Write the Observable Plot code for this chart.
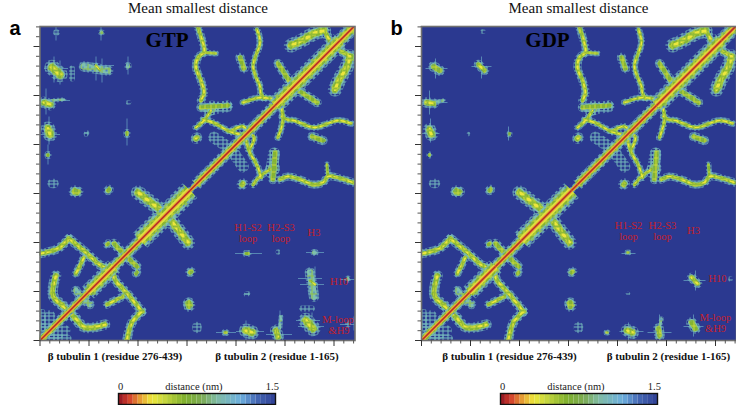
<!DOCTYPE html>
<html><head><meta charset="utf-8">
<script src="https://cdn.jsdelivr.net/npm/d3@7"></script>
<script src="https://cdn.jsdelivr.net/npm/@observablehq/plot@0.6"></script>
<style>
html,body{margin:0;padding:0;background:#fff;overflow:hidden}
#page{position:relative;width:736px;height:405px;overflow:hidden}
svg{overflow:visible}
</style></head><body>
<svg width="0" height="0" style="position:absolute"><defs>
<pattern id="hatch" width="13" height="11" patternUnits="userSpaceOnUse">
<g fill="#74b8bc"><rect y="0" width="13" height="1"/><rect y="4" width="13" height="1"/><rect y="7" width="13" height="1"/>
<rect x="1" width="1" height="11"/><rect x="5" width="1" height="11"/><rect x="9" width="1" height="11"/></g>
</pattern>
<pattern id="dense" width="7" height="9" patternUnits="userSpaceOnUse">
<rect width="7" height="9" fill="#7fc0ac"/><g fill="#4f7fc4"><rect x="1" y="1" width="2" height="1"/><rect x="5" y="3" width="1" height="2"/><rect x="0" y="6" width="2" height="2"/></g>
<g fill="#8fbe4a"><rect x="3" width="1" height="9"/><rect y="5" width="7" height="1"/></g>
</pattern>
<pattern id="mid" width="11" height="7" patternUnits="userSpaceOnUse">
<rect width="11" height="7" fill="#86b432"/><g fill="#c8d83e"><rect x="1" width="1" height="7"/><rect x="6" width="1" height="7"/><rect y="3" width="11" height="1"/></g>
<g fill="#7cb08c"><rect x="9" y="1" width="1" height="1"/><rect x="3" y="5" width="1" height="1"/></g>
</pattern>
<pattern id="core" width="7" height="6" patternUnits="userSpaceOnUse">
<rect width="7" height="6" fill="#ece63c"/><g fill="#94bc36"><rect x="2" width="2" height="6"/><rect y="3" width="7" height="2"/></g>
</pattern>
</defs></svg>
<div id="page"></div>
<script>
// colour key (distance in nm)
const colorStops = [0,0.08,0.2,0.3,0.42,0.62,0.78,0.92,1.15,1.3,1.5];
const colorHex = ["#9c1c24","#d23c2c","#e8a534","#ede83c","#c6d63e","#7fb02e","#7cab54","#80bba4","#6db0de","#4568b4","#2b3990"];
const keyLevels = [0,.047,.094,.141,.188,.234,.281,.328,.375,.422,.469,.516,.563,.609,.656,.703,.75,.797,.844,.891,.938,.984,1.031,1.078,1.125,1.172,1.219,1.266,1.313,1.359,1.406,1.453];
// matrix positions (mirrored about the diagonal): [points..], width, peak level (0 hatch, 1 teal, 2 green, 3 yellow)
const sharedBands = [
 [[1,87,18,92,29,102],7,3],[[29,102,46,88,61,75,73,72],7,3],[[44,83,36,67],6,3],[[16,65,13,45,23,35],8,3],
 [[5,14,10,25],8,0],[[2,28,3,12],5,0],[[98,148,124,128],11,3],[[74,97,85,85],7,2],[[67,96,68,97],6,2],
 [[22,35,30,28],7,3],[[34,149,35,150],8,2],[[68,150,69,151],7,2],[[12,157,14,157],7,0],[[36,50,42,42],7,1],
 [[158,313,164,293,164,288,158,283,156,273,161,260,164,248,161,240],6,3],[[164,288,176,287],4,2],
 [[217,311,220,298,213,274,220,254,221,247,224,242],5,3],[[200,283,204,272],7,2],[[238,277,251,257],7,2],
 [[251,295,262,300,274,307,284,310],11,3],[[284,310,294,293],7,3],[[161,233,188,235],7,2],[[171,232,172,233],11,1],
 [[156,213,164,220,171,230],5,3],[[156,202,157,203],8,3],[[174,203,190,192],9,0],[[203,238,221,243,238,240],5,3],
 [[163,221,173,218,190,209,205,205],5,3],[[190,209,203,214,209,208],5,3],[[231,168,234,187],9,0],[[148,37,149,38],8,2]
];
const blobsGTP = [
 [[16,308,17,308],4,0],[[61,308,62,308],4,1],[[12,273,20,266],12,3],[[32,262,32,272],4,0],[[44,274,68,270],8,1],[[56,275,60,270],4,3],
 [[88,275,88,274],5,1],[[4,238,10,236],9,3],[[12,240,24,241],3,1],[[88,238,89,238],3,0],[[8,212,10,206],11,3],[[46,207,46,206],3,0],
 [[87,208,87,206],5,2],[[8,186,8,185],5,2],[[47,208,47,207],3,0]
];
const blobsGDP = [
 [[61,309,62,309],3,0],[[12,274,18,270],8,2],[[57,276,63,270],7,3],[[5,238,12,237],8,3],[[12,238,22,240],3,1],
 [[8,211,10,206],10,3],[[8,186,8,185],4,2],[[47,207,47,206],2,0],[[88,207,88,206],4,2]
];
const fringesGTP = [[4,272,28,272],[14,284,14,258],[20,280,20,256],[40,275,74,275],[56,284,56,260],[62,282,62,258],[0,240,30,240],[6,252,6,226],[0,206,20,206],[9,224,9,196],[87,222,87,195],[8,196,8,176],[88,284,88,266],[61,316,61,300],[10,314,24,314],[16,316,16,300]];
const fringesGDP = [[4,272,26,272],[14,282,14,262],[50,274,70,274],[60,284,60,262],[0,238,26,238],[8,250,8,226],[0,207,18,207],[9,222,9,198],[87,214,87,200]];
const diagonalStretches = [[0,48,8],[48,74,13],[74,100,9],[100,150,16],[150,156,5],[156,235,9],[235,300,14],[300,316,11]];
const majorTicks = [0,49,98,147,196,245,294];
const minorTicks = [9.8,19.6,29.4,39.2,58.8,68.6,78.4,88.2,107.8,117.6,127.4,137.2,156.8,166.6,176.4,186.2,205.8,215.6,225.4,235.2,254.8,264.6,274.4,284.2,303.8,313.6];
const color = {type:"linear",domain:colorStops,range:colorHex};
const serif = "'Liberation Serif',serif";

function rows(list){
  const out=[];
  list.forEach(([p,w,level],i)=>{
    const pts=d3.range(0,p.length,2).map(k=>[p[k],p[k+1]]);
    pts.forEach(([a,b])=>out.push({id:"u"+i,a,b,w,level}));
    pts.forEach(([a,b])=>out.push({id:"m"+i,a:b,b:a,w,level}));
  });
  return out;
}
function panel(cfg){
  const data=rows(sharedBands.concat(cfg.blobs));
  const fringe=cfg.fringes.flatMap(f=>[f,[f[1],f[0],f[3],f[2]]]);
  const layer=(factor,stroke,min,fixed)=>Plot.line(data.filter(d=>d.level>=min),{x:"a",y:"b",z:"id",curve:"catmull-rom",strokeLinecap:"round",strokeWidth:d=>d.w*factor+(fixed||0),stroke,clip:"frame",imageFilter:"blur(0.5px)"});
  const dg=(factor,d,widthFixed)=>Plot.link(diagonalStretches,{x1:s=>s[0],y1:s=>s[0],x2:s=>s[1],y2:s=>s[1],stroke:()=>d,strokeWidth:s=>widthFixed||s[2]*factor,clip:"frame",imageFilter:"blur(0.5px)"});
  const dgTex=(factor,tex)=>Plot.link(diagonalStretches,{x1:s=>s[0],y1:s=>s[0],x2:s=>s[1],y2:s=>s[1],stroke:tex,strokeWidth:s=>s[2]*factor,clip:"frame",imageFilter:"blur(0.45px)"});
  const lab=(text,x,y,o)=>Plot.text([text],{x:()=>x,y:()=>y,text:d=>d,...o});
  const red={fill:"#c4202c",fontFamily:serif,fontSize:10.5};
  const bold={fill:"#111",fontFamily:serif,fontWeight:"bold",fontSize:11};
  return Plot.plot({
    width:368,height:405,marginLeft:cfg.left,marginRight:368-cfg.left-315,marginTop:26,marginBottom:65,
    x:{domain:[0,315],axis:null},y:{domain:[0,314],axis:null},color,
    marks:[
      Plot.frame({fill:"#2b3990",stroke:"none"}),
      Plot.link(fringe,{x1:f=>f[0],y1:f=>f[1],x2:f=>f[2],y2:f=>f[3],stroke:"#6fb0c8",strokeOpacity:.65,strokeWidth:1,clip:"frame",imageFilter:"blur(0.3px)"}),
      dgTex(1.3,"url(#hatch)"),
      layer(1.2,"url(#hatch)",0,1),
      layer(.85,"url(#dense)",1),
      layer(.6,"url(#mid)",2),
      layer(.28,"url(#core)",3),
      dgTex(1,"url(#dense)"),dgTex(.72,"url(#mid)"),dg(.42,0.34),dg(0,0.2,3.4),dg(0,0.04,1.6),
      Plot.frame({stroke:"#707070",strokeWidth:1.6}),
      Plot.axisX(majorTicks,{anchor:"bottom",tickSize:6,tickPadding:0,tickFormat:()=>"",label:null,stroke:"#333"}),
      Plot.axisX(minorTicks,{anchor:"bottom",tickSize:3.5,tickPadding:0,tickFormat:()=>"",label:null,stroke:"#555"}),
      Plot.axisY(majorTicks,{anchor:"left",tickSize:6,tickPadding:0,tickFormat:()=>"",label:null,stroke:"#333"}),
      Plot.axisY(minorTicks,{anchor:"left",tickSize:3.5,tickPadding:0,tickFormat:()=>"",label:null,stroke:"#555"}),
      lab("Mean smallest distance",cfg.titleX,332,{fill:"#111",fontFamily:serif,fontSize:15}),
      lab(cfg.letter,cfg.letterX,312,{fill:"#000",fontFamily:"'Liberation Sans',sans-serif",fontWeight:"bold",fontSize:20}),
      lab(cfg.nuc,cfg.nucX,300,{fill:"#000",fontFamily:serif,fontWeight:"bold",fontSize:21}),
      lab("β tubulin 1 (residue 276-439)",cfg.res1,-16,bold),
      lab("β tubulin 2 (residue 1-165)",cfg.res2,-16,bold),
      ...cfg.red.map(([t,x,y])=>lab(t,x,y,red))
    ]
  });
}
function key(left,top,zero,mid,end){
  const k=Plot.plot({
    width:220,height:30,marginLeft:18,marginRight:45,marginTop:18,marginBottom:1,
    x:{domain:[0,1.5],axis:null},y:{axis:null,domain:[0,1]},color,
    marks:[
      Plot.rect(keyLevels,{x1:d=>d,x2:d=>Math.min(1.5,d+0.047),y1:()=>0,y2:()=>1,fill:d=>d}),
      Plot.frame({stroke:"#111",strokeWidth:1.4}),
      Plot.text(["0"],{x:()=>zero,y:()=>1,dy:-7,text:d=>d,fontFamily:serif,fontSize:10.5,fill:"#222"}),
      Plot.text(["distance (nm)"],{x:()=>mid,y:()=>1,dy:-7,text:d=>d,fontFamily:serif,fontSize:10.5,fill:"#222"}),
      Plot.text(["1.5"],{x:()=>end,y:()=>1,dy:-7,text:d=>d,fontFamily:serif,fontSize:10.5,fill:"#222"})
    ]
  });
  k.style.position="absolute";k.style.left=left+"px";k.style.top=top+"px";k.style.maxWidth="none";
  return k;
}
const page=document.getElementById("page");
const a=panel({left:39.5,blobs:blobsGTP,fringes:fringesGTP,letter:"a",letterX:-25,nuc:"GTP",nucX:127,titleX:158,res1:75,res2:237,
  red:[["H1-S2",208,113],["loop",208,102],["H2-S3",241,113],["loop",241,102],["H3",274,108],["H10",299,59],["M-loop",298,21],["&H9",299,10]]});
const b=panel({left:53,blobs:blobsGDP,fringes:fringesGDP,letter:"b",letterX:-25,nuc:"GDP",nucX:126,titleX:157,res1:88,res2:247,
  red:[["H1-S2",207,115],["loop",207,104],["H2-S3",241,115],["loop",241,104],["H3",272,110],["H10",296,62],["M-loop",294,23],["&H9",294,12]]});
a.style.cssText="position:absolute;left:0;top:0;max-width:none";
b.style.cssText="position:absolute;left:368px;top:0;max-width:none";
page.append(a,b,key(100,375,0.02,0.72,1.47),key(482,375,0.02,0.72,1.47));
</script></body></html>
